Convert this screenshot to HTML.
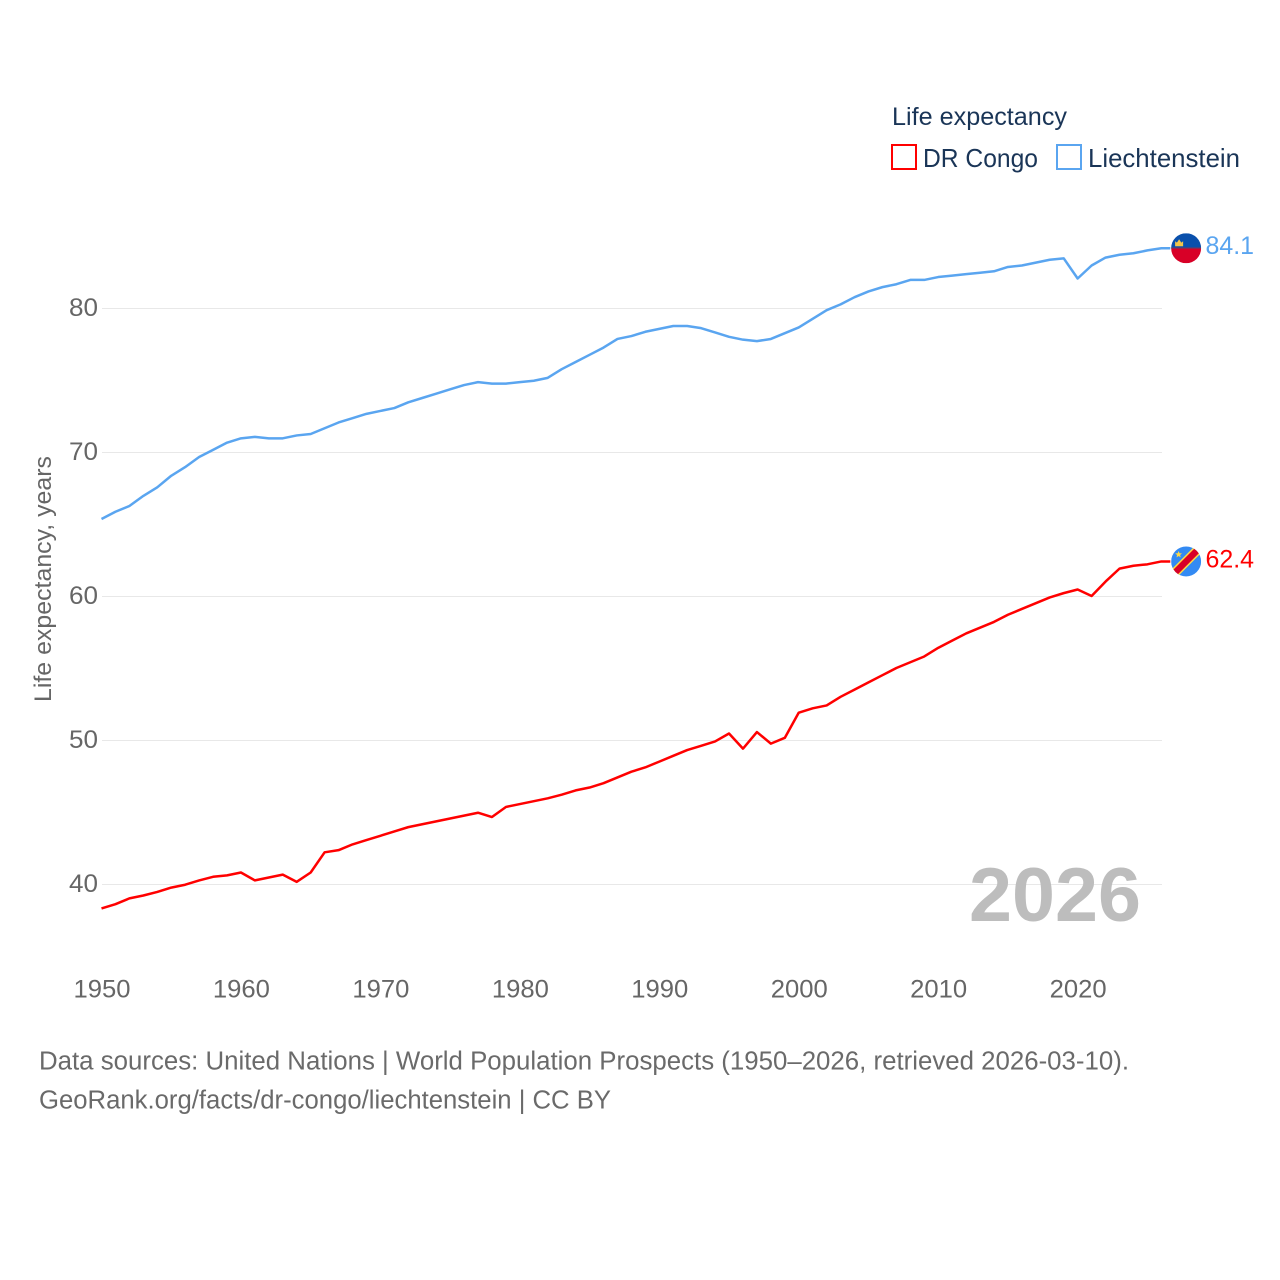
<!DOCTYPE html>
<html lang="en">
<head>
<meta charset="utf-8">
<title>Life expectancy: DR Congo and Liechtenstein</title>
<style>
html,body{margin:0;padding:0;background:#fff;width:1280px;height:1280px;overflow:hidden}
svg{display:block;font-family:"Liberation Sans",sans-serif}
</style>
</head>
<body>
<svg id="chart" xmlns="http://www.w3.org/2000/svg" width="1280" height="1280" viewBox="0 0 1280 1280">
  <defs>
    <clipPath id="flag-clip"><circle cx="0" cy="0" r="15"></circle></clipPath>
  </defs>
  <g id="grid"></g>
  <g id="y-ticks"></g>
  <g id="x-ticks"></g>
  <text transform="translate(51,702) rotate(-90)" font-size="24.5" fill="#666" textLength="246" lengthAdjust="spacingAndGlyphs">Life expectancy, years</text>
  <text x="969" y="921" font-size="76" font-weight="700" fill="#bdbdbd" textLength="172" lengthAdjust="spacingAndGlyphs">2026</text>
  <g id="series"></g>
  <g id="flag-liechtenstein" clip-path="url(#flag-clip)">
    <rect x="-15" y="-15" width="30" height="15" fill="#0a50ac"></rect>
    <rect x="-15" y="0" width="30" height="15" fill="#d80027"></rect>
    <rect x="-15" y="-0.8" width="30" height="1.2" fill="#6a3a60"></rect>
    <path d="M-11 -2 h8 v-5 l-1.8 1.4 l-2.2 -3.4 l-2.2 3.4 l-1.8 -1.4 z" fill="#f3c64a"></path>
  </g>
  <g id="flag-dr-congo" clip-path="url(#flag-clip)">
    <rect x="-15" y="-15" width="30" height="30" fill="#338af3"></rect>
    <line x1="-15" y1="15" x2="15" y2="-15" stroke="#ffda44" stroke-width="9.5"></line>
    <line x1="-15" y1="15" x2="15" y2="-15" stroke="#d80027" stroke-width="6.5"></line>
    <path d="M-7.5 -10.5 l.9 2.3 2.5 .1 -1.9 1.6 .6 2.4 -2.1 -1.3 -2.1 1.3 .6 -2.4 -1.9 -1.6 2.5 -.1 z" fill="#ffda44"></path>
  </g>
  <g id="end-labels"></g>
  <g>
    <text x="892" y="125" font-size="25" fill="#1a3557" textLength="175" lengthAdjust="spacingAndGlyphs">Life expectancy</text>
    <rect x="892" y="145" width="24" height="24" fill="#fff" stroke="#ff0000" stroke-width="2"></rect>
    <text x="923" y="167" font-size="26" fill="#1a3557" textLength="115" lengthAdjust="spacingAndGlyphs">DR Congo</text>
    <rect x="1057" y="145" width="24" height="24" fill="#fff" stroke="#5aa5f0" stroke-width="2"></rect>
    <text x="1088" y="167" font-size="26" fill="#1a3557" textLength="152" lengthAdjust="spacingAndGlyphs">Liechtenstein</text>
  </g>
  <g font-size="25.5" fill="#6a6a6a">
    <text x="39" y="1069.5" textLength="1090" lengthAdjust="spacingAndGlyphs">Data sources: United Nations | World Population Prospects (1950–2026, retrieved 2026-03-10).</text>
    <text x="39" y="1108.5" textLength="572" lengthAdjust="spacingAndGlyphs">GeoRank.org/facts/dr-congo/liechtenstein | CC BY</text>
  </g>
</svg>
<script>
const firstYear = 1950;
const yTicks = [40, 50, 60, 70, 80];
const xTicks = [1950, 1960, 1970, 1980, 1990, 2000, 2010, 2020];
const drCongoValues = [38.3,38.6,39.0,39.2,39.45,39.75,39.95,40.25,40.5,40.6,40.8,40.25,40.45,40.65,40.15,40.8,42.2,42.35,42.75,43.05,43.35,43.65,43.95,44.15,44.35,44.55,44.75,44.95,44.65,45.35,45.55,45.75,45.95,46.2,46.5,46.7,47.0,47.4,47.8,48.1,48.5,48.9,49.3,49.6,49.9,50.45,49.4,50.55,49.75,50.15,51.9,52.2,52.4,53.0,53.5,54.0,54.5,55.0,55.4,55.8,56.4,56.9,57.4,57.8,58.2,58.7,59.1,59.5,59.9,60.2,60.45,60.0,61.0,61.9,62.1,62.2,62.4];
const liechtensteinValues = [65.35,65.85,66.25,66.95,67.55,68.35,68.95,69.65,70.15,70.65,70.95,71.05,70.95,70.95,71.15,71.25,71.65,72.05,72.35,72.65,72.85,73.05,73.45,73.75,74.05,74.35,74.65,74.85,74.75,74.75,74.85,74.95,75.15,75.75,76.25,76.75,77.25,77.85,78.05,78.35,78.55,78.75,78.75,78.6,78.3,78.0,77.8,77.7,77.85,78.25,78.65,79.25,79.85,80.25,80.75,81.15,81.45,81.65,81.95,81.95,82.15,82.25,82.35,82.45,82.55,82.85,82.95,83.15,83.35,83.45,82.05,82.95,83.5,83.7,83.8,84.0,84.15];
const drCongoLabel = "62.4";
const liechtensteinLabel = "84.1";

const NS = "http://www.w3.org/2000/svg";
function x(year) { return 101.5 + (year - 1950) * 13.945; }
function y(value) { return 884 - (value - 40) * 14.4; }
function make(tag, parent, attrs, text) {
  const el = document.createElementNS(NS, tag);
  for (const k in attrs) el.setAttribute(k, attrs[k]);
  if (text !== undefined) el.textContent = text;
  parent.appendChild(el);
  return el;
}
const grid = document.getElementById("grid");
const yTickGroup = document.getElementById("y-ticks");
const xTickGroup = document.getElementById("x-ticks");
const seriesGroup = document.getElementById("series");
const labelGroup = document.getElementById("end-labels");

yTicks.forEach(function (t) {
  const line = make("line", grid, { x1: 102, x2: 1162, y1: y(t) + 0.5, y2: y(t) + 0.5, stroke: "#e8e8e8", "stroke-width": 1, "shape-rendering": "crispEdges" });
  
  
  const label = make("text", yTickGroup, { x: 98, y: y(t) + 8, "text-anchor": "end", "font-size": 25, fill: "#666", textLength: 29, lengthAdjust: "spacingAndGlyphs" }, String(t));
  
  
});
xTicks.forEach(function (t) {
  const label = make("text", xTickGroup, { x: x(t) + 0.5, y: 997.5, "text-anchor": "middle", "font-size": 25, fill: "#666", textLength: 57, lengthAdjust: "spacingAndGlyphs" }, String(t));
  
  
});

function drawSeries(values, color) {
  const pts = values.map(function (v, i) { return x(firstYear + i).toFixed(2) + "," + y(v).toFixed(2); });
  const last = values[values.length - 1];
  pts.push((x(firstYear + values.length - 1) + 9).toFixed(2) + "," + y(last).toFixed(2));
  return make("polyline", seriesGroup, { points: pts.join(" "), fill: "none", stroke: color, "stroke-width": 2.5, "stroke-linejoin": "round" });
}
const redLine = drawSeries(drCongoValues, "#ff0000");


const blueLine = drawSeries(liechtensteinValues, "#5aa5f0");



const endX = x(firstYear + drCongoValues.length - 1);
const redY = y(drCongoValues[drCongoValues.length - 1]);
const blueY = y(liechtensteinValues[liechtensteinValues.length - 1]);
document.getElementById("flag-dr-congo").setAttribute("transform", "translate(" + (endX + 24.8) + "," + redY + ")");
document.getElementById("flag-liechtenstein").setAttribute("transform", "translate(" + (endX + 24.8) + "," + blueY + ")");

const redValue = make("text", labelGroup, { x: endX + 44.2, y: redY + 6, "font-size": 25, fill: "#ff0000", textLength: 48.5, lengthAdjust: "spacingAndGlyphs" }, drCongoLabel);


const blueValue = make("text", labelGroup, { x: endX + 44.2, y: blueY + 6, "font-size": 25, fill: "#5aa5f0", textLength: 48.5, lengthAdjust: "spacingAndGlyphs" }, liechtensteinLabel);


</script>
</body>
</html>
